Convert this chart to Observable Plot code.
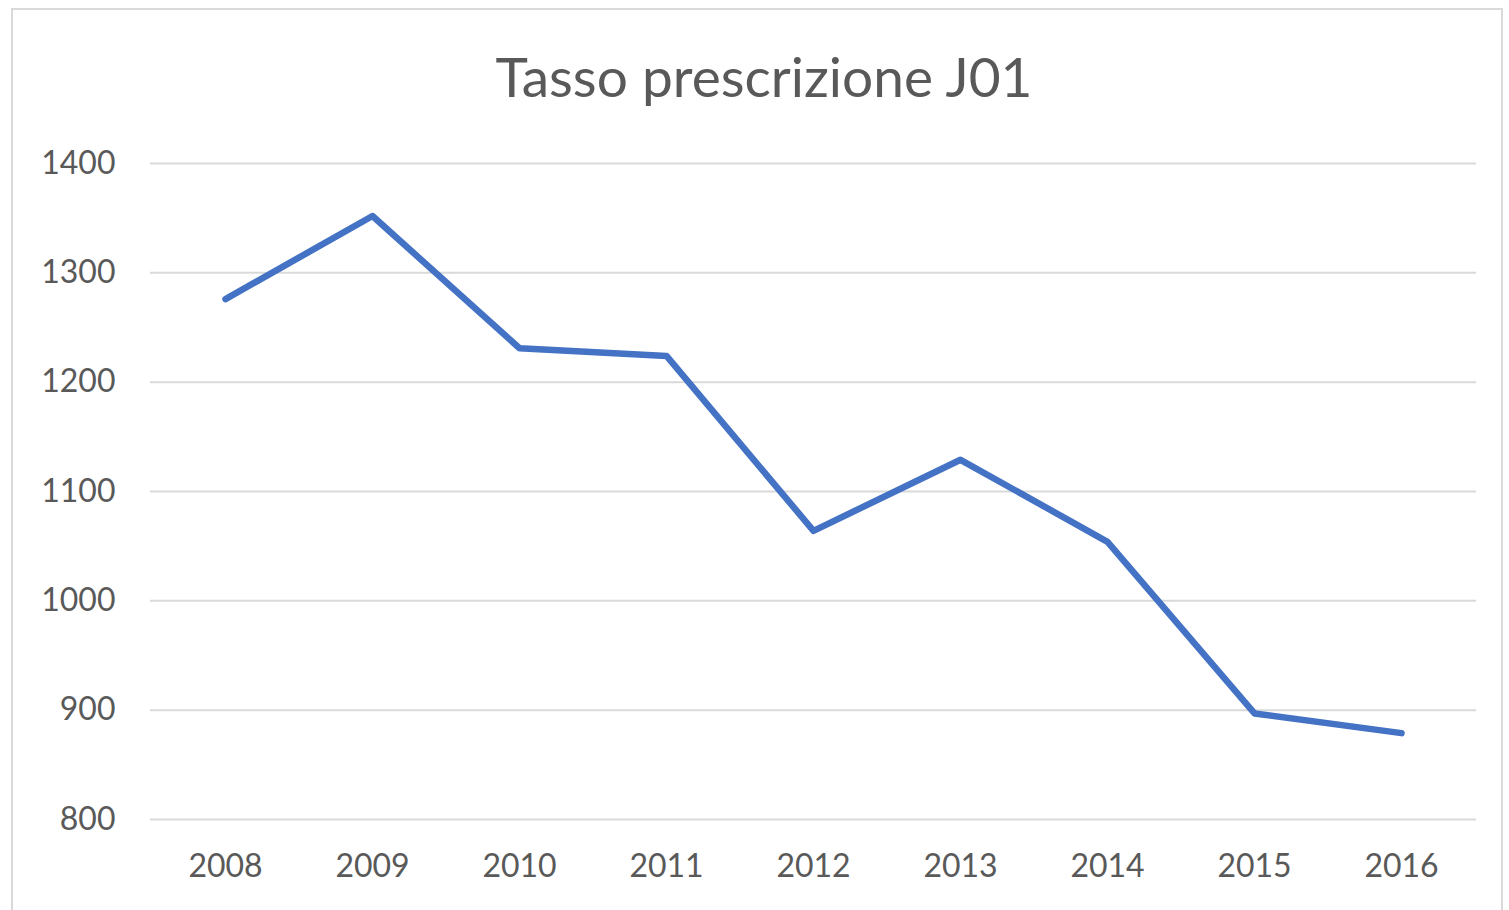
<!DOCTYPE html>
<html>
<head>
<meta charset="utf-8">
<script src="https://cdn.jsdelivr.net/npm/d3@7"></script>
<script src="https://cdn.jsdelivr.net/npm/@observablehq/plot@0.6"></script>
<style>
  html, body { margin: 0; padding: 0; background: #fff; }
  #frame {
    position: absolute; left: 11px; top: 8px; width: 1492px; height: 910px;
    border: 2px solid #d9d9d9; box-sizing: border-box; background: #fff;
  }
  #title {
    position: absolute; left: 14px; right: 0; top: 39px; text-align: center;
    font-family: Lato, "Open Sans", sans-serif; font-size: 55px; color: #595959;
    line-height: 1; margin: 0; font-weight: normal;
  }
  #chart { position: absolute; left: 0px; top: 100px; }
</style>
</head>
<body>
<div id="frame">
  <div id="title">Tasso prescrizione J01</div>
  <div id="chart"></div>
</div>
<script>
const years = ["2008", "2009", "2010", "2011", "2012", "2013", "2014", "2015", "2016"];
const values = [1276, 1352, 1231, 1224, 1064, 1129, 1054, 897, 879];
const yTicks = [800, 900, 1000, 1100, 1200, 1300, 1400];

const data = years.map((y, i) => ({year: y, value: values[i]}));

const chart = Plot.plot({
  width: 1488,
  height: 790,
  marginTop: 53,
  marginBottom: 81,
  marginLeft: 137,
  marginRight: 25,
  style: {fontFamily: "Lato, 'Open Sans', sans-serif", fontSize: "32px", color: "#595959", background: "#fff"},
  x: {type: "point", domain: years, padding: 0.5, label: null, tickSize: 0, tickPadding: 35},
  y: {domain: [800, 1400], ticks: yTicks, tickFormat: d => String(d), label: null, tickSize: 0, tickPadding: 35},
  marks: [
    Plot.ruleY(yTicks, {stroke: "#d9d9d9", strokeWidth: 2}),
    Plot.line(data, {x: "year", y: "value", stroke: "#4472C4", strokeWidth: 6.5, strokeLinejoin: "round", strokeLinecap: "round"})
  ]
});
document.getElementById("chart").appendChild(chart);
</script>
</body>
</html>
